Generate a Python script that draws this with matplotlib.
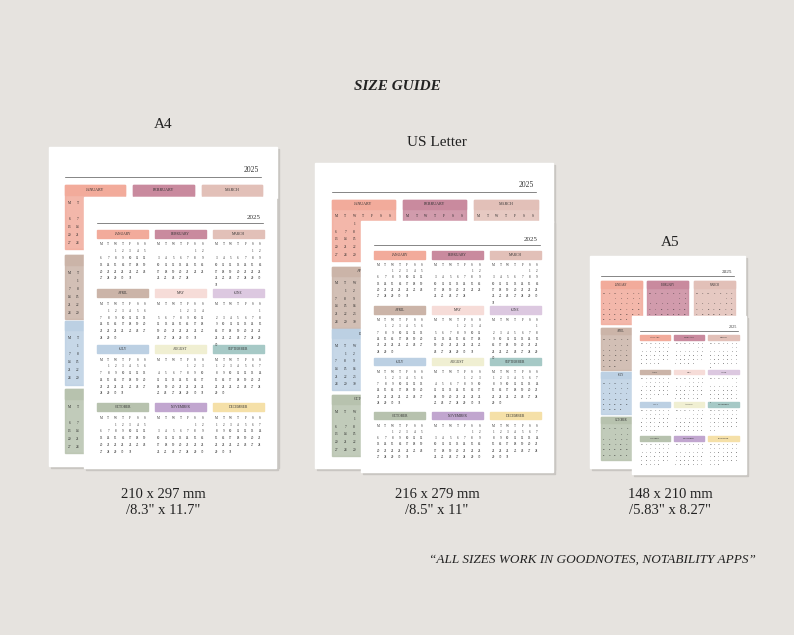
import calendar
import matplotlib
matplotlib.use("Agg")
import matplotlib.pyplot as plt
from matplotlib.patches import Rectangle

months = ["JANUARY", "FEBRUARY", "MARCH", "APRIL", "MAY", "JUNE",
          "JULY", "AUGUST", "SEPTEMBER", "OCTOBER", "NOVEMBER", "DECEMBER"]
month_colors = ["#f2ab9b", "#c98a9e", "#e2c0b8", "#cbb4a8", "#f6dcd8", "#dcc8e0",
                "#bcd0e3", "#f0efd2", "#a6c9c6", "#b7c2ae", "#c1a6cf", "#f5e0a8"]
day_letters = ["M", "T", "W", "T", "F", "S", "S"]
year = 2025
size_names = ["A4", "US Letter", "A5"]
size_mm = ["210 x 297 mm", "216 x 279 mm", "148 x 210 mm"]
size_in = ['/8.3" x 11.7"', '/8.5" x 11"', '/5.83" x 8.27"']

SERIF = "Liberation Serif"
fig = plt.figure(figsize=(7.94, 6.35), dpi=100)
fig.patch.set_facecolor("#e6e3df")
ax = fig.add_axes([0, 0, 1, 1])
ax.set_xlim(0, 794)
ax.set_ylim(635, 0)
ax.axis("off")


def draw_page(x0, y0, w, h, filled, scale, z):
    ax.add_patch(Rectangle((x0 + 2, y0 + 2), w, h, color="#c9c6c2", zorder=z))
    ax.add_patch(Rectangle((x0, y0), w, h, color="white", zorder=z))
    ax.text(x0 + 0.92 * w, y0 + 0.085 * h, str(year), fontsize=5 * scale,
            family=SERIF, ha="right", va="bottom", color="#333", zorder=z + 2)
    ax.plot([x0 + 0.07 * w, x0 + 0.93 * w], [y0 + 0.095 * h] * 2, color="#555",
            lw=0.5, zorder=z + 2)
    row_tops = [0.12, 0.34, 0.545, 0.76]
    cw = 0.265 * w
    for i, name in enumerate(months):
        r, c = divmod(i, 3)
        bx = x0 + 0.07 * w + c * (cw + 0.035 * w)
        by = y0 + row_tops[r] * h
        hh = 0.03 * h
        if filled:
            ax.add_patch(Rectangle((bx, by), cw, 0.2 * h, color=month_colors[i],
                                   alpha=0.85, zorder=z + 1))
        ax.add_patch(Rectangle((bx, by), cw, hh, color=month_colors[i], zorder=z + 1))
        ax.text(bx + cw / 2, by + hh / 2, name, fontsize=2.6 * scale, family=SERIF,
                ha="center", va="center", color="#333", zorder=z + 2)
        dx = cw / 7
        for k, d in enumerate(day_letters):
            ax.text(bx + dx * (k + 0.5), by + hh + 0.025 * h, d, fontsize=2.3 * scale,
                    family=SERIF, ha="center", va="center", color="#222", zorder=z + 2)
        weeks = calendar.Calendar(0).monthdayscalendar(year, i + 1)
        for wi, wk in enumerate(weeks):
            for k, d in enumerate(wk):
                if d:
                    ax.text(bx + dx * (k + 0.5), by + hh + 0.05 * h + wi * 0.025 * h,
                            str(d), fontsize=2.3 * scale, family=SERIF, ha="center",
                            va="center", color="#222", zorder=z + 2)


# A4
draw_page(49, 147, 228, 319, True, 1.1, 1)
draw_page(84, 197, 192, 271, False, 1.0, 5)
# US Letter
draw_page(315, 163, 238, 305, True, 1.1, 1)
draw_page(361, 221, 192, 251, False, 1.0, 5)
# A5
draw_page(590, 256, 155, 212, True, 0.75, 1)
draw_page(632, 316, 114, 158, False, 0.6, 5)

ax.text(397, 86, "SIZE GUIDE", fontsize=11, family=SERIF, style="italic",
        weight="bold", ha="center", va="center", color="#222")
label_pos = [(163, 125), (437, 143), (670, 242)]
cap_x = [163, 437, 670]
for name, (lx, ly), cx, mm, inch in zip(size_names, label_pos, cap_x, size_mm, size_in):
    ax.text(lx, ly, name, fontsize=11, family=SERIF, ha="center", va="center",
            color="#222")
    ax.text(cx, 494, mm, fontsize=10.5, family=SERIF, ha="center", va="center",
            color="#222")
    ax.text(cx, 511, inch, fontsize=10.5, family=SERIF, ha="center", va="center",
            color="#222")
ax.text(592, 560, "\u201cALL SIZES WORK IN GOODNOTES, NOTABILITY APPS\u201d",
        fontsize=9.5, family=SERIF, style="italic", ha="center", va="center",
        color="#222")

fig.savefig("out.png", dpi=100, facecolor=fig.get_facecolor())
